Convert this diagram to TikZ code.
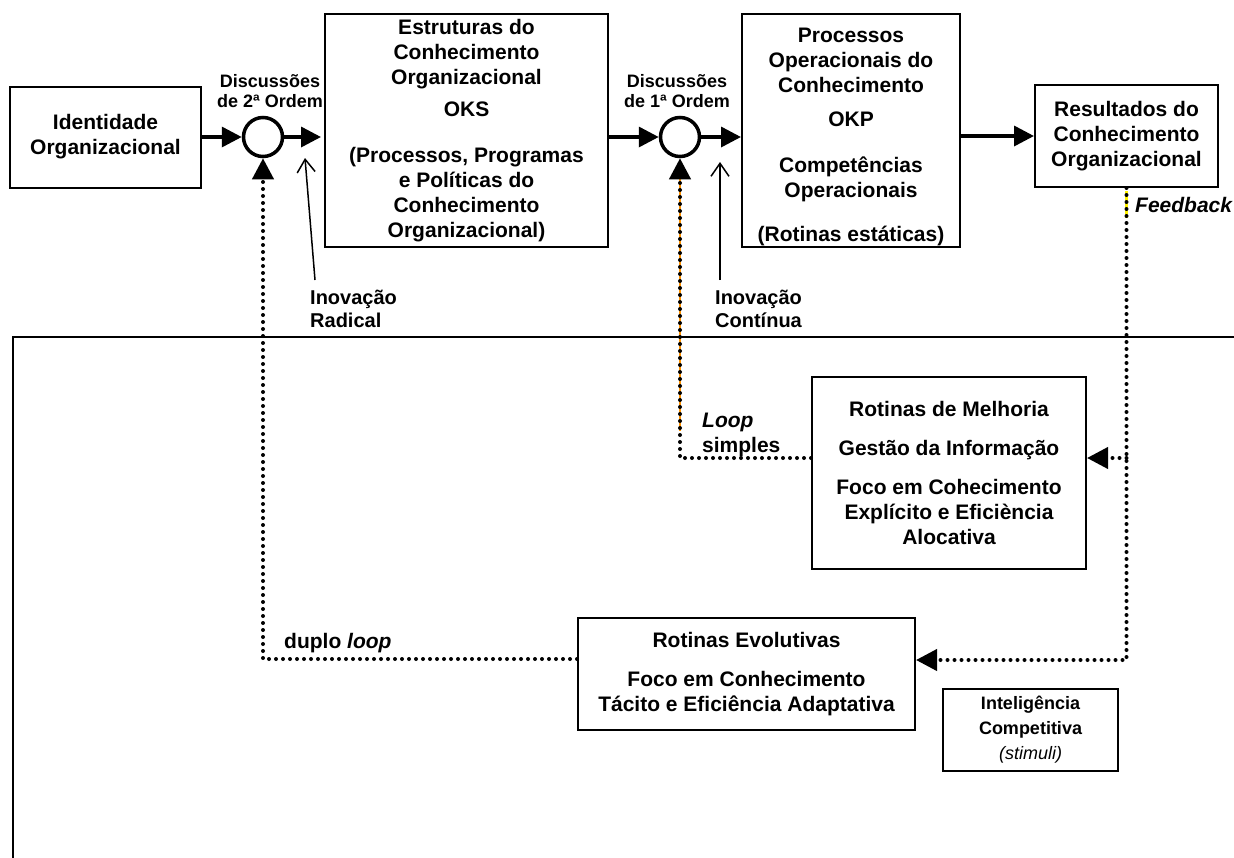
\documentclass[tikz,border=0pt]{standalone}
\usepackage{fontspec}
\setmainfont{Liberation Sans}
\usetikzlibrary{arrows.meta, positioning}

\begin{document}
\begin{tikzpicture}[
    x=1pt, y=1pt,
    block/.style={
        draw,
        rectangle,
        line width=2pt,
        align=center,
        inner sep=0pt,
        font=\bfseries\fontsize{21}{25}\selectfont
    },
    junction/.style={
        draw,
        circle,
        line width=3.5pt,
        minimum size=39pt,
        inner sep=0pt
    },
    tag/.style={
        inner sep=0pt,
        align=left,
        font=\bfseries\fontsize{21}{25}\selectfont
    },
    disctag/.style={
        inner sep=0pt,
        align=center,
        font=\bfseries\fontsize{18}{20}\selectfont
    },
    flow/.style={-{Triangle[length=20pt,width=20pt]}, line width=3.5pt},
    innov/.style={-{Straight Barb[length=13pt,width=18pt]}, line width=1.5pt},
    loopline/.style={-{Triangle[length=21pt,width=21pt]}, line width=4pt,
        line cap=round, dash pattern=on 0pt off 7pt}
]

\useasboundingbox (0,0) rectangle (1234,-857);
\clip (0,0) rectangle (1234,-857);

% top row
\node[block, minimum width=191pt, minimum height=101pt] (ident) at (105.5,-137) {Identidade\\Organizacional};
\node[junction] (disc2) at (263,-137) {};
\node[block, minimum width=283pt, minimum height=233pt] (oks) at (466.5,-130.5)
    {Estruturas do\\Conhecimento\\Organizacional\\[7pt]OKS\\[21pt](Processos, Programas\\e Políticas do\\Conhecimento\\Organizacional)};
\node[junction] (disc1) at (680,-137) {};
\node[block, minimum width=218pt, minimum height=233pt] (okp) at (851,-130.5) {};
\node[block, draw=none] at ([yshift=-6pt]okp.center)
    {Processos\\Operacionais do\\Conhecimento\\[9pt]OKP\\[21pt]Competências\\Operacionais\\[19pt](Rotinas estáticas)};
\node[block, minimum width=183pt, minimum height=102pt] (result) at (1126.5,-136) {Resultados do\\Conhecimento\\Organizacional};

\node[disctag, above=8pt of disc2, xshift=7pt] (lblDisc2) {Discussões\\de 2ª Ordem};
\node[disctag, above=8pt of disc1, xshift=-3pt] (lblDisc1) {Discussões\\de 1ª Ordem};

% routines
\node[block, minimum width=274pt, minimum height=192pt] (melhoria) at (949,-473)
    {Rotinas de Melhoria\\[14pt]Gestão da Informação\\[14pt]Foco em Cohecimento\\Explícito e Eficiència\\Alocativa};
\node[block, minimum width=337pt, minimum height=112pt] (evolutivas) at (746.5,-674)
    {Rotinas Evolutivas\\[14pt]Foco em Conhecimento\\Tácito e Eficiência Adaptativa};
\node[block, minimum width=175pt, minimum height=82pt, font=\bfseries\fontsize{18}{25}\selectfont] (intel) at (1030.5,-730)
    {Inteligência\\Competitiva\\{\mdseries\itshape (stimuli)}};

% labels
\node[tag, anchor=west, font=\bfseries\fontsize{20}{23}\selectfont] (inovRad) at (310,-309) {Inovação\\Radical};
\node[tag, anchor=west, font=\bfseries\fontsize{20}{23}\selectfont] (inovCont) at (715,-309) {Inovação\\Contínua};
\node[tag, anchor=west] (lblLoop) at (702,-434.5) {\textit{Loop}\\simples};
\node[tag, anchor=west] (lblDuplo) at (284,-643) {duplo \textit{loop}};
\node[tag, anchor=west] (lblFeedback) at (1135,-205) {\textit{Feedback}};

\coordinate (radTip) at (305,-158);
\coordinate (contTip) at (720,-162);
\coordinate (mIn) at ([yshift=15pt]melhoria.east);

% outer frame
\draw[line width=2.5pt] (1240,-337) -- (13,-337) -- (13,-870);

% main flow
\draw[flow] (ident.east |- disc2) -- (disc2.west);
\draw[flow] (disc2.east) -- ([xshift=-3pt]oks.west |- disc2);
\draw[flow] (oks.east |- disc1) -- (disc1.west);
\draw[flow] (disc1.east) -- (okp.west |- disc1);
\draw[flow] (okp.east |- result.west) -- (result.west);

% innovation
\draw[innov] ([shift={(5pt,10pt)}]inovRad.north west) -- (radTip);
\draw[innov] ([shift={(5pt,10pt)}]inovCont.north west) -- (contTip);

% loops
\draw[orange!85!yellow, line width=2.5pt] ([yshift=-21pt]disc1.south) -- ++(0,-252);
\draw[yellow, line width=2.5pt] ([yshift=-3pt]result.south) -- ++(0,-27);
\draw[loopline] ([yshift=15pt]evolutivas.west) -| (disc2.south);
\draw[loopline] ([yshift=15pt]melhoria.west) -| (disc1.south);
\draw[loopline] (result.south) |- ([yshift=14pt]evolutivas.east);
\draw[loopline] (result.south |- mIn) -- (mIn);

\end{tikzpicture}
\end{document}
